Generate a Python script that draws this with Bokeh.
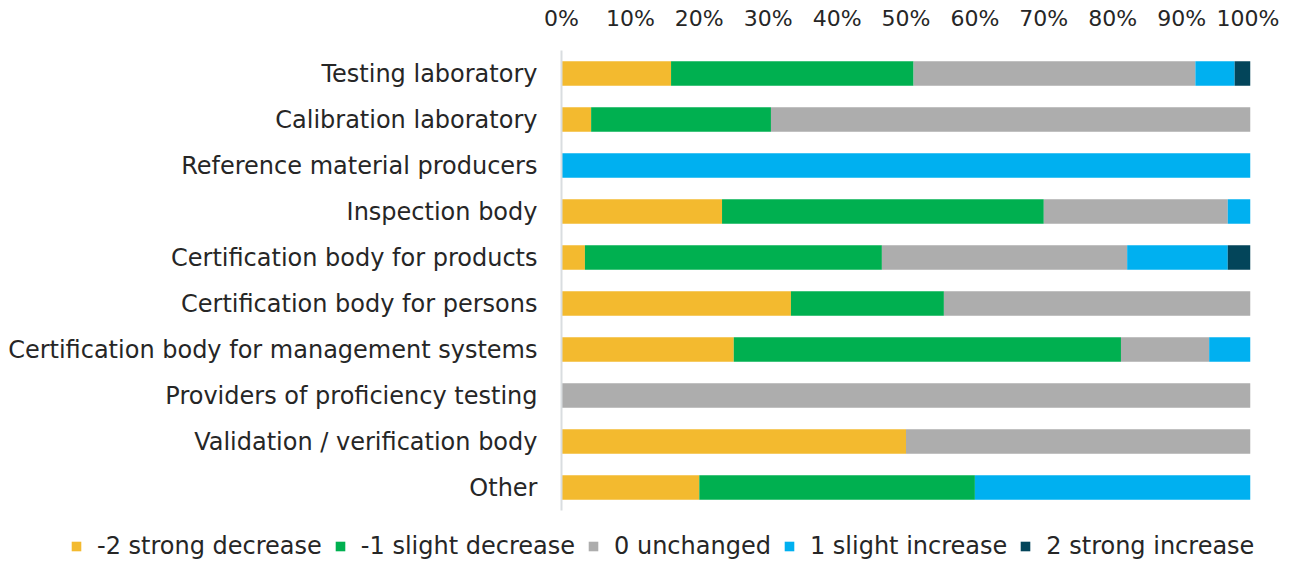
from bokeh.plotting import figure
from bokeh.models import Range1d, FactorRange, FixedTicker, Legend, LegendItem, ColumnDataSource
from bokeh.layouts import column
from bokeh.embed import file_html
from bokeh.resources import INLINE

categories = [
    "Testing laboratory",
    "Calibration laboratory",
    "Reference material producers",
    "Inspection body",
    "Certification body for products",
    "Certification body for persons",
    "Certification body for management systems",
    "Providers of proficiency testing",
    "Validation / verification body",
    "Other",
]
strong_decrease = [15.9, 4.3, 0, 23.3, 3.4, 33.3, 25.0, 0, 50.0, 20.0]
slight_decrease = [35.2, 26.1, 0, 46.7, 43.1, 22.2, 56.2, 0, 0, 40.0]
unchanged = [40.9, 69.6, 0, 26.7, 35.6, 44.5, 12.8, 100, 50.0, 0]
slight_increase = [5.7, 0, 100, 3.3, 14.6, 0, 6.0, 0, 0, 40.0]
strong_increase = [2.3, 0, 0, 0, 3.3, 0, 0, 0, 0, 0]

series_names = ["-2 strong decrease", "-1 slight decrease", "0 unchanged",
                "1 slight increase", "2 strong increase"]
colors = ["#F3BA2F", "#00B050", "#ADADAD", "#00B0F0", "#03455A"]
tick_values = [0, 10, 20, 30, 40, 50, 60, 70, 80, 90, 100]
tick_labels = ["0%", "10%", "20%", "30%", "40%", "50%", "60%", "70%", "80%", "90%", "100%"]

keys = ["s0", "s1", "s2", "s3", "s4"]
source = ColumnDataSource(dict(
    cat=categories,
    s0=strong_decrease, s1=slight_decrease, s2=unchanged,
    s3=slight_increase, s4=strong_increase,
))

FONT = "DejaVu Sans"
TXT = "#262626"

p = figure(
    width=1279, height=522,
    x_range=Range1d(0, 100),
    y_range=FactorRange(*list(reversed(categories))),
    x_axis_location="above",
    output_backend="svg", toolbar_location=None,
    min_border_left=561, min_border_right=29,
    min_border_top=50, min_border_bottom=12,
)

renderers = p.hbar_stack(keys, y="cat", height=0.53, color=colors,
                         line_color=None, source=source)

p.xgrid.visible = False
p.ygrid.visible = False
p.outline_line_color = None

xa = p.xaxis[0]
xa.ticker = FixedTicker(ticks=tick_values)
xa.major_label_overrides = {v: l for v, l in zip(tick_values, tick_labels)}
xa.axis_line_color = None
xa.major_tick_line_color = None
xa.minor_tick_line_color = None
xa.major_label_text_font = FONT
xa.major_label_text_font_size = "22px"
xa.major_label_text_color = TXT
xa.major_label_standoff = 14

ya = p.yaxis[0]
ya.axis_line_color = "#D9DDE0"
ya.axis_line_width = 2
ya.major_tick_line_color = None
ya.minor_tick_line_color = None
ya.major_label_text_font = FONT
ya.major_label_text_font_size = "24px"
ya.major_label_text_color = TXT
ya.major_label_standoff = 18

# legend panel
lg = figure(
    width=1279, height=38,
    x_range=Range1d(0, 1), y_range=Range1d(0, 1),
    x_axis_type=None, y_axis_type=None,
    output_backend="svg", toolbar_location=None,
    min_border=0, min_border_left=0, min_border_right=0,
    min_border_top=0, min_border_bottom=0,
)
lg.xgrid.visible = False
lg.ygrid.visible = False
lg.outline_line_color = None

if "frame_align" in lg.properties():
    lg.frame_align = False
    p.frame_align = False

proxy = ColumnDataSource(dict(y=[-5], right=[0]))
lg_renderers = [lg.hbar(y="y", right="right", height=0.5, color=c, line_color=None, source=proxy)
                for c in colors]

legend = Legend(
    items=[LegendItem(label=n, renderers=[r]) for n, r in zip(series_names, lg_renderers)],
    orientation="horizontal", location=(70, 0),
    label_text_font=FONT, label_text_font_size="24px", label_text_color=TXT,
    glyph_width=12, glyph_height=12, spacing=12, label_standoff=15,
    border_line_color=None, background_fill_alpha=0, padding=0, margin=0,
)
lg.add_layout(legend, "center")

layout = column(p, lg, spacing=0)
open("out.html", "w").write(file_html(layout, INLINE))
